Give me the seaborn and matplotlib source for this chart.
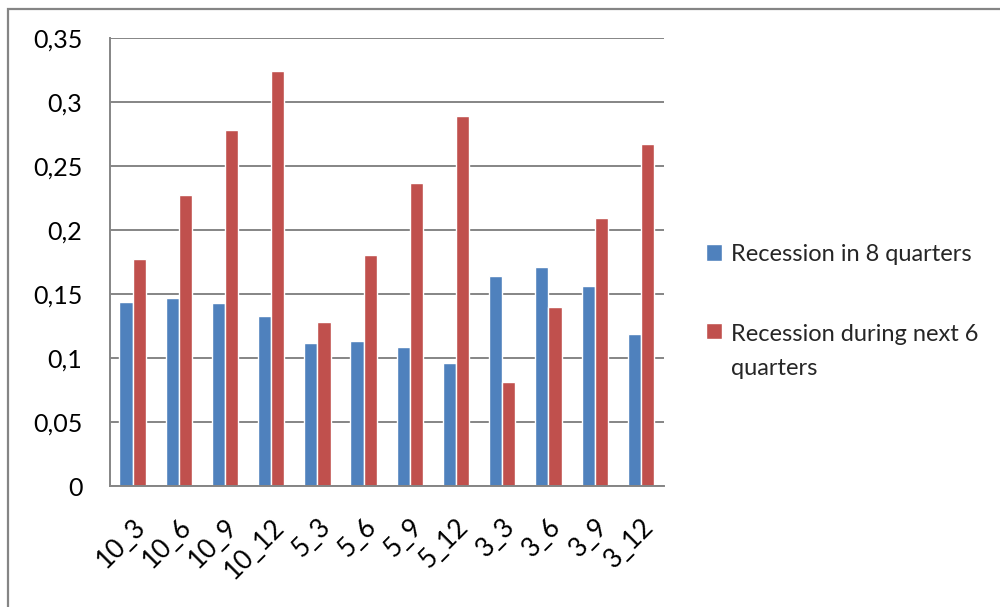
import matplotlib
matplotlib.use("Agg")
import matplotlib.pyplot as plt
from matplotlib.patches import Rectangle
from matplotlib.legend_handler import HandlerPatch
import seaborn as sns
import pandas as pd

# Window / horizon combinations on the x axis
categories = ["10_3", "10_6", "10_9", "10_12", "5_3", "5_6", "5_9", "5_12",
              "3_3", "3_6", "3_9", "3_12"]

series_names = ["Recession in 8 quarters", "Recession during next 6 quarters"]
legend_labels = ["Recession in 8 quarters", "Recession during next 6\nquarters"]

recession_8q = [0.144, 0.147, 0.143, 0.133, 0.112, 0.1135, 0.1086, 0.096,
                0.164, 0.171, 0.156, 0.119]
recession_next_6q = [0.177, 0.227, 0.278, 0.3245, 0.128, 0.1805, 0.237, 0.289,
                     0.0815, 0.140, 0.209, 0.2675]

ytick_values = [0, 0.05, 0.1, 0.15, 0.2, 0.25, 0.3, 0.35]
ytick_labels = ["0", "0,05", "0,1", "0,15", "0,2", "0,25", "0,3", "0,35"]

colors = ["#4F81BD", "#C0504D"]

df = pd.DataFrame({
    "combo": categories * 2,
    "series": [series_names[0]] * len(categories) + [series_names[1]] * len(categories),
    "value": recession_8q + recession_next_6q,
})

sns.set_theme(style="white")
plt.rcParams["font.family"] = ["Lato", "DejaVu Sans"]

fig = plt.figure(figsize=(10, 6.07), dpi=100)
W, H = 1000, 607
ax = fig.add_axes([109.5 / W, (H - 486) / H, (664 - 109.5) / W, (486 - 38) / H])

sns.barplot(data=df, x="combo", y="value", hue="series", order=categories,
            hue_order=series_names, palette=colors, width=0.57, saturation=1,
            ax=ax, legend=True)

ax.set_ylim(0, 0.35)
ax.set_yticks(ytick_values)
ax.set_yticklabels(ytick_labels)
ax.set_xlabel("")
ax.set_ylabel("")

grid_color = "#858585"
ax.yaxis.grid(True, color=grid_color, linewidth=1.4)
ax.set_axisbelow(True)
for side in ["top", "right"]:
    ax.spines[side].set_visible(False)
for side in ["left", "bottom"]:
    ax.spines[side].set_color(grid_color)
    ax.spines[side].set_linewidth(1.4)

ax.tick_params(axis="y", length=0, pad=19.5, labelsize=18, labelcolor="black")
ax.tick_params(axis="x", length=0, pad=20, labelsize=19, labelcolor="black")
for lbl in ax.get_xticklabels():
    lbl.set_rotation(45)
    lbl.set_ha("right")
    lbl.set_rotation_mode("anchor")


def top_aligned_patch(legend, orig_handle, xdescent, ydescent, width, height, fontsize):
    # keep the swatch level with the first line of a wrapped label
    return Rectangle((-xdescent, -ydescent + 15), width, height)


handles, _ = ax.get_legend_handles_labels()
leg = ax.legend(handles, legend_labels, loc="upper left",
                bbox_to_anchor=(694 / W, (H - 232) / H), bbox_transform=fig.transFigure,
                frameon=False, fontsize=17, handlelength=0.68, handleheight=0.68,
                handletextpad=0.4, labelspacing=2.5, borderpad=0,
                handler_map={handles[1]: HandlerPatch(patch_func=top_aligned_patch)})
for txt in leg.get_texts():
    txt.set_linespacing(1.8)

# Chart frame
fig.add_artist(Rectangle((8 / W, -0.2), 1.2, (H - 9) / H + 0.2,
                         transform=fig.transFigure, fill=False,
                         edgecolor=grid_color, linewidth=1.6))

fig.savefig("out.png", dpi=100)
